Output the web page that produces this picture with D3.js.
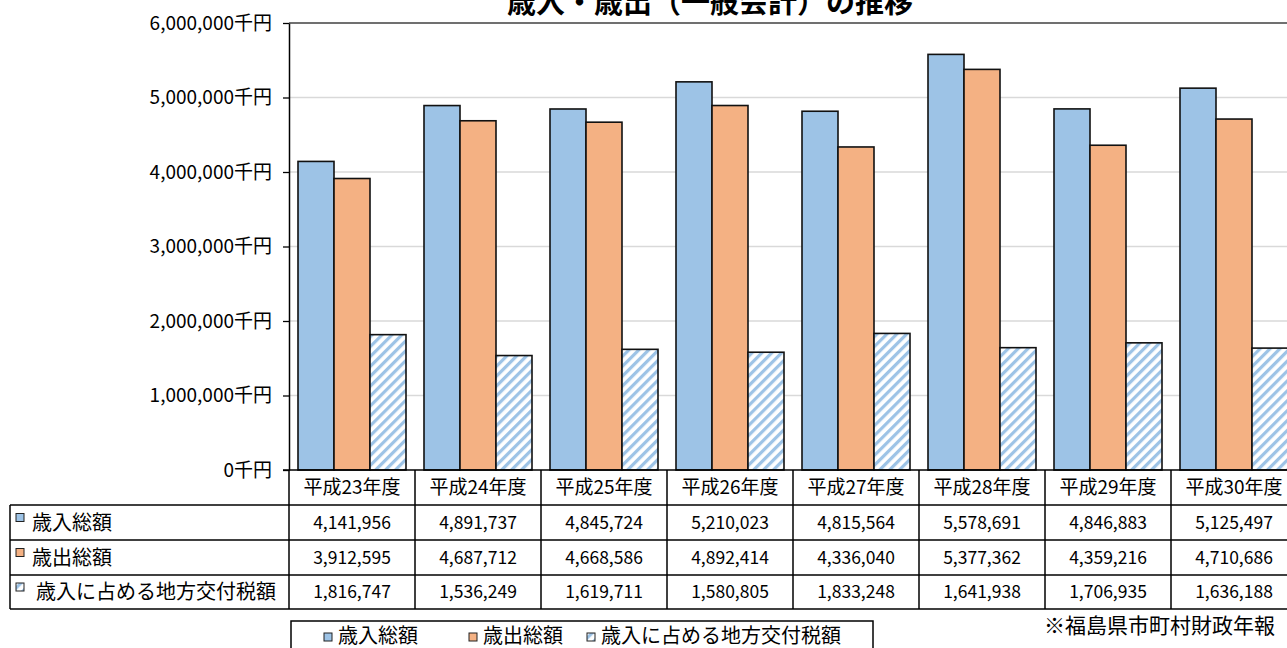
<!DOCTYPE html>
<html>
<head>
<meta charset="utf-8">
<script src="https://cdn.jsdelivr.net/npm/d3@7/dist/d3.min.js"></script>
<style>
  html, body { margin: 0; padding: 0; background: #fff; overflow: hidden; }
  svg { display: block; font-family: "Noto Sans CJK JP", "Noto Sans", sans-serif; }
</style>
</head>
<body>
<svg id="chart" width="1287" height="648"></svg>
<script>
// 決算年度
const years = ["平成23年度", "平成24年度", "平成25年度", "平成26年度", "平成27年度", "平成28年度", "平成29年度", "平成30年度"];
// 系列名
const seriesNames = ["歳入総額", "歳出総額", "歳入に占める地方交付税額"];
// 各系列の値（千円）
const revenue = [4141956, 4891737, 4845724, 5210023, 4815564, 5578691, 4846883, 5125497];
const expenditure = [3912595, 4687712, 4668586, 4892414, 4336040, 5377362, 4359216, 4710686];
const localTax = [1816747, 1536249, 1619711, 1580805, 1833248, 1641938, 1706935, 1636188];
// 縦軸目盛
const yTicks = [0, 1000000, 2000000, 3000000, 4000000, 5000000, 6000000];

const seriesValues = [revenue, expenditure, localTax];
const fills = ["#9DC3E6", "#F4B183", "url(#hatch)"];

const svg = d3.select("#chart");
const fmt = d3.format(",");

// 斜線パターン
const defs = svg.append("defs");
const pat = defs.append("pattern")
  .attr("id", "hatch")
  .attr("patternUnits", "userSpaceOnUse")
  .attr("width", 7).attr("height", 7)
  .attr("patternTransform", "rotate(45)");
pat.append("rect").attr("width", 7).attr("height", 7).attr("fill", "#fff");
pat.append("rect").attr("width", 3.2).attr("height", 7).attr("fill", "#9DC3E6");

const plot = { left: 289, top: 23, bottom: 470 };
const band = 126;

const x = d3.scaleBand()
  .domain(years)
  .range([plot.left, plot.left + band * years.length])
  .paddingInner(0).paddingOuter(0);
const xs = d3.scaleBand()
  .domain(d3.range(seriesNames.length))
  .range([0, x.bandwidth()])
  .paddingOuter(0.25).paddingInner(0);
const y = d3.scaleLinear().domain([0, 6000000]).range([plot.bottom, plot.top]);

// タイトル
svg.append("text")
  .attr("x", 710).attr("y", 13)
  .attr("text-anchor", "middle")
  .attr("font-size", 29).attr("font-weight", "bold")
  .attr("fill", "#000")
  .text("歳入・歳出（一般会計）の推移");

// 目盛線
svg.append("g").selectAll("line")
  .data(yTicks.filter(d => d > 0 && d < 6000000))
  .join("line")
  .attr("x1", plot.left).attr("x2", 1287)
  .attr("y1", d => y(d)).attr("y2", d => y(d))
  .attr("stroke", "#d9d9d9").attr("stroke-width", 1.3);

// プロット上端
svg.append("line")
  .attr("x1", plot.left).attr("x2", 1287)
  .attr("y1", y(6000000)).attr("y2", y(6000000))
  .attr("stroke", "#404040").attr("stroke-width", 1.5);

// 棒
const groups = svg.append("g").selectAll("g")
  .data(years)
  .join("g")
  .attr("transform", d => `translate(${x(d)},0)`);
groups.selectAll("rect")
  .data((d, i) => seriesValues.map((s, k) => ({ k, v: s[i] })))
  .join("rect")
  .attr("x", d => xs(d.k))
  .attr("width", xs.bandwidth())
  .attr("y", d => y(d.v))
  .attr("height", d => y(0) - y(d.v))
  .attr("fill", d => fills[d.k])
  .attr("stroke", "#111").attr("stroke-width", 1.6);

// 縦軸
const yAxis = d3.axisLeft(y)
  .tickValues(yTicks)
  .tickSize(6).tickSizeOuter(0)
  .tickFormat(d => fmt(d) + "千円");
const gy = svg.append("g")
  .attr("transform", `translate(${plot.left},0)`)
  .call(yAxis);
gy.select(".domain").attr("stroke", "#000").attr("stroke-width", 1.5);
gy.selectAll(".tick line").attr("stroke", "#000").attr("stroke-width", 1.3);
gy.selectAll(".tick text")
  .attr("x", -17)
  .attr("font-size", 19)
  .attr("fill", "#000")
  .attr("font-family", "'Noto Sans CJK JP', sans-serif");

// データテーブル
const rowTop = [470, 505, 540, 575];
const rowBottom = 609;
const tableLeft = 10;
const tableRight = x.range()[1];
const table = svg.append("g").attr("stroke", "#000").attr("stroke-width", 1.5);

// 横線
table.append("line").attr("x1", plot.left - 6).attr("x2", 1287).attr("y1", rowTop[0]).attr("y2", rowTop[0]);
[rowTop[1], rowTop[2], rowTop[3], rowBottom].forEach(yy => {
  table.append("line").attr("x1", tableLeft).attr("x2", tableRight).attr("y1", yy).attr("y2", yy);
});
// 縦線
table.append("line").attr("x1", tableLeft).attr("x2", tableLeft).attr("y1", rowTop[1]).attr("y2", rowBottom);
years.forEach(d => {
  table.append("line").attr("x1", x(d)).attr("x2", x(d)).attr("y1", rowTop[0]).attr("y2", rowBottom);
});
table.append("line").attr("x1", tableRight).attr("x2", tableRight).attr("y1", rowTop[0]).attr("y2", rowBottom);

// 年度見出し
svg.append("g").selectAll("text")
  .data(years)
  .join("text")
  .attr("x", d => x(d) + x.bandwidth() / 2)
  .attr("y", (rowTop[0] + rowTop[1]) / 2)
  .attr("dy", "0.36em")
  .attr("text-anchor", "middle")
  .attr("font-size", 19)
  .attr("fill", "#000")
  .text(d => d);

// 系列ラベル（凡例マーカー付き）
const rowLabels = svg.append("g").selectAll("g")
  .data(seriesNames)
  .join("g")
  .attr("transform", (d, i) => `translate(0,${(rowTop[i + 1] + (rowTop[i + 2] || rowBottom)) / 2})`);
rowLabels.append("rect")
  .attr("x", 16).attr("y", -9)
  .attr("width", 8).attr("height", 8)
  .attr("fill", (d, i) => fills[i])
  .attr("stroke", "#222").attr("stroke-width", 1);
rowLabels.append("text")
  .attr("x", (d, i) => i === 2 ? 36 : 32)
  .attr("dy", "0.36em")
  .attr("font-size", 20)
  .attr("fill", "#000")
  .text(d => d);

// 数値セル
seriesValues.forEach((vals, i) => {
  const cy = (rowTop[i + 1] + (rowTop[i + 2] || rowBottom)) / 2;
  svg.append("g").selectAll("text")
    .data(vals)
    .join("text")
    .attr("x", (d, j) => x(years[j]) + x.bandwidth() / 2)
    .attr("y", cy)
    .attr("dy", "0.36em")
    .attr("text-anchor", "middle")
    .attr("font-size", 17.5)
    .attr("fill", "#000")
    .text(d => fmt(d));
});

// 凡例
const legend = svg.append("g");
legend.append("rect")
  .attr("x", 291).attr("y", 621)
  .attr("width", 582).attr("height", 40)
  .attr("fill", "#fff").attr("stroke", "#000").attr("stroke-width", 1.5);
const legendPos = [324, 469, 587];
const li = legend.selectAll("g.item")
  .data(seriesNames)
  .join("g")
  .attr("class", "item")
  .attr("transform", (d, i) => `translate(${legendPos[i]},636)`);
li.append("rect")
  .attr("x", 0).attr("y", -3)
  .attr("width", 8).attr("height", 8)
  .attr("fill", (d, i) => fills[i])
  .attr("stroke", "#222").attr("stroke-width", 1);
li.append("text")
  .attr("x", 14).attr("dy", "0.36em")
  .attr("font-size", 20)
  .attr("fill", "#000")
  .text(d => d);

// 出典
svg.append("text")
  .attr("x", 1275).attr("y", 625)
  .attr("dy", "0.36em")
  .attr("text-anchor", "end")
  .attr("font-size", 21)
  .attr("fill", "#000")
  .text("※福島県市町村財政年報");
</script>
</body>
</html>
